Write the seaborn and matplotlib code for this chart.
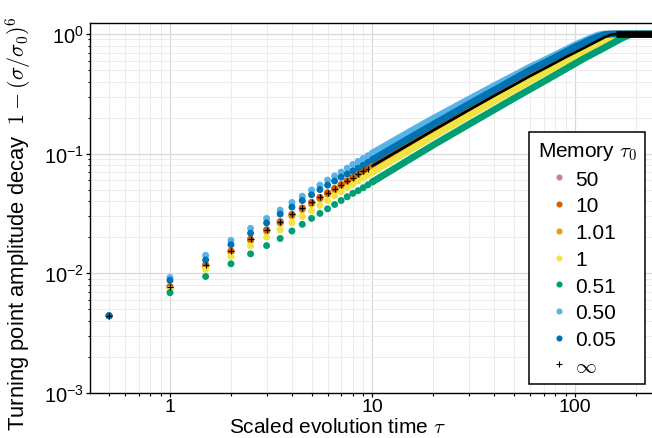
import pandas as pd
import seaborn as sns
import matplotlib.pyplot as plt
from matplotlib.lines import Line2D
from matplotlib.ticker import FixedLocator, LogLocator, NullFormatter

# memory tau_0 values (legend order) and their colours
memory = ["50", "10", "1.01", "1", "0.51", "0.50", "0.05"]
colors = ["#CC79A7", "#D55E00", "#E69F00", "#F0E442", "#009E73", "#56B4E9", "#0072B2"]
# order the series are drawn in (later ones sit on top)
draw_order = ["50", "1.01", "10", "1", "0.51", "0.50", "0.05"]

# early turning points, read dot by dot
tau_pts = [0.5, 1, 1.5, 2, 2.5, 3, 3.5, 4, 4.5, 5, 5.5, 6, 6.5, 7, 7.5, 8, 8.5, 9, 9.5, 10]
pts_50 = [0.0044, 0.0077, 0.0117, 0.0153, 0.0192, 0.0230, 0.0269, 0.0310, 0.0350, 0.0390,
          0.0430, 0.0470, 0.0510, 0.0550, 0.0590, 0.0630, 0.0670, 0.0710, 0.0750, 0.0790]
pts_10 = [0.0044, 0.0077, 0.0117, 0.0153, 0.0192, 0.0230, 0.0269, 0.0310, 0.0350, 0.0390,
          0.0430, 0.0470, 0.0510, 0.0550, 0.0590, 0.0630, 0.0670, 0.0710, 0.0750, 0.0790]
pts_101 = [0.0044, 0.0075, 0.0114, 0.0149, 0.0186, 0.0223, 0.0261, 0.0300, 0.0339, 0.0378,
           0.0416, 0.0455, 0.0494, 0.0533, 0.0572, 0.0611, 0.0650, 0.0689, 0.0727, 0.0766]
pts_1 = [0.0044, 0.00735, 0.01074, 0.0138, 0.01695, 0.0200, 0.0230, 0.0264, 0.0298, 0.0332,
         0.0368, 0.0405, 0.0442, 0.0480, 0.0520, 0.0555, 0.0590, 0.0625, 0.0660, 0.0700]
pts_051 = [0.0044, 0.00686, 0.00938, 0.01197, 0.0145, 0.0170, 0.0195, 0.0225, 0.0256, 0.0287,
           0.0316, 0.0345, 0.0375, 0.0405, 0.0435, 0.0465, 0.0490, 0.0518, 0.0548, 0.0580]
pts_050 = [0.0044, 0.0092, 0.0141, 0.0188, 0.0237, 0.0287, 0.0337, 0.0390, 0.0440, 0.0495,
           0.0545, 0.0600, 0.0650, 0.0700, 0.0755, 0.0810, 0.0860, 0.0910, 0.0960, 0.1010]
pts_005 = [0.0044, 0.0087, 0.0129, 0.0173, 0.0216, 0.0263, 0.0312, 0.0357, 0.0405, 0.0452,
           0.0500, 0.0545, 0.0590, 0.0635, 0.0675, 0.0715, 0.0758, 0.0800, 0.0845, 0.0890]
pts_inf = [0.0044, 0.0077, 0.0117, 0.0153, 0.0192, 0.0230, 0.0269, 0.0310, 0.0350, 0.0390,
           0.0430, 0.0470, 0.0510, 0.0550, 0.0590, 0.0630, 0.0670, 0.0710, 0.0750, 0.0790]

# later turning points sit so close they merge into bands
tau_band = [10, 15, 20, 30, 40, 50, 60, 70, 80, 90, 100, 110, 120, 130, 140, 150, 160, 170, 180, 190, 200, 240]
band_50 = [0.079, 0.118, 0.157, 0.232, 0.305, 0.375, 0.445, 0.51, 0.575, 0.64, 0.70, 0.76, 0.82, 0.88, 0.94, 0.985, 1, 1, 1, 1, 1, 1]
band_10 = [0.079, 0.118, 0.157, 0.232, 0.305, 0.375, 0.445, 0.51, 0.575, 0.64, 0.70, 0.76, 0.82, 0.88, 0.94, 0.985, 1, 1, 1, 1, 1, 1]
band_101 = [0.0766, 0.115, 0.153, 0.226, 0.298, 0.367, 0.437, 0.50, 0.565, 0.63, 0.69, 0.75, 0.81, 0.87, 0.93, 0.98, 1, 1, 1, 1, 1, 1]
band_1 = [0.070, 0.105, 0.140, 0.208, 0.275, 0.34, 0.405, 0.47, 0.53, 0.59, 0.65, 0.71, 0.77, 0.83, 0.89, 0.94, 0.985, 1, 1, 1, 1, 1]
band_051 = [0.058, 0.088, 0.118, 0.176, 0.233, 0.29, 0.345, 0.40, 0.455, 0.51, 0.565, 0.62, 0.67, 0.72, 0.77, 0.82, 0.87, 0.92, 0.96, 0.995, 1, 1]
band_050 = [0.101, 0.150, 0.197, 0.285, 0.37, 0.45, 0.53, 0.60, 0.67, 0.74, 0.81, 0.87, 0.93, 0.98, 1, 1, 1, 1, 1, 1, 1, 1]
band_005 = [0.089, 0.133, 0.176, 0.26, 0.34, 0.42, 0.50, 0.57, 0.64, 0.71, 0.78, 0.84, 0.90, 0.95, 0.99, 1, 1, 1, 1, 1, 1, 1]
band_inf = [0.079, 0.118, 0.157, 0.232, 0.305, 0.375, 0.445, 0.51, 0.575, 0.64, 0.70, 0.76, 0.82, 0.88, 0.94, 0.985, 1, 1, 1, 1, 1, 1]

pts_all = dict(zip(memory, [pts_50, pts_10, pts_101, pts_1, pts_051, pts_050, pts_005]))
band_all = dict(zip(memory, [band_50, band_10, band_101, band_1, band_051, band_050, band_005]))

rows = []
for m in draw_order:
    rows += [(m, t, v) for t, v in zip(tau_pts, pts_all[m])]
dots = pd.DataFrame(rows, columns=["memory", "tau", "decay"])

rows = []
for m in draw_order:
    rows += [(m, t, v) for t, v in zip(tau_band, band_all[m])]
bands = pd.DataFrame(rows, columns=["memory", "tau", "decay"])

inf = pd.DataFrame({"tau": tau_band, "decay": band_inf})

sns.set_theme(style="ticks")
plt.rcParams["font.family"] = ["Liberation Sans", "DejaVu Sans"]
plt.rcParams["mathtext.fontset"] = "cm"
for key in ["text.color", "axes.labelcolor", "xtick.color", "ytick.color"]:
    plt.rcParams[key] = "black"

pal = dict(zip(memory, colors))

fig = plt.figure(figsize=(6.52, 4.39), dpi=100)
ax = fig.add_axes([90 / 652, 1 - 393.7 / 439, 562 / 652, 369.7 / 439])
ax.set_xscale("log")
ax.set_yscale("log")

sns.scatterplot(data=dots, x="tau", y="decay", hue="memory", hue_order=draw_order,
                palette=pal, s=25, linewidth=0, legend=False, ax=ax)
sns.scatterplot(x=tau_pts, y=pts_inf, marker="+", color="black", s=24,
                linewidth=0.9, legend=False, ax=ax)
sns.lineplot(data=bands, x="tau", y="decay", hue="memory", hue_order=draw_order,
             palette=pal, lw=4.9, estimator=None, legend=False, ax=ax,
             solid_capstyle="round")
sns.lineplot(data=inf[inf.tau <= 160], x="tau", y="decay", color="black", lw=1.9,
             estimator=None, legend=False, ax=ax, solid_capstyle="round")
sns.lineplot(data=inf[inf.decay >= 1], x="tau", y="decay", color="black", lw=4.8,
             estimator=None, legend=False, ax=ax, solid_capstyle="butt")

ax.set_xlim(0.4027, 240)
ax.set_ylim(1e-3, 1.236)

ax.xaxis.set_major_locator(FixedLocator([1, 10, 100]))
ax.set_xticklabels(["1", "10", "100"])
ax.xaxis.set_minor_locator(LogLocator(base=10, subs=range(2, 10)))
ax.xaxis.set_minor_formatter(NullFormatter())
ax.yaxis.set_major_locator(FixedLocator([1e-3, 1e-2, 1e-1, 1]))
ax.set_yticklabels([r"$\mathregular{10^{-3}}$", r"$\mathregular{10^{-2}}$",
                    r"$\mathregular{10^{-1}}$", r"$\mathregular{10^{0}}$"])
ax.yaxis.set_minor_locator(LogLocator(base=10, subs=range(2, 10)))
ax.yaxis.set_minor_formatter(NullFormatter())

ax.set_axisbelow(True)
ax.grid(True, which="major", color="#d9d9d9", lw=0.9)
ax.grid(True, which="minor", color="#ececec", lw=0.7)

ax.tick_params(which="major", direction="out", length=2.6, width=0.9,
               labelsize=14, color="black", pad=1.0)
ax.tick_params(axis="y", which="major", labelsize=14.5, pad=1.5)
ax.tick_params(which="minor", direction="out", length=1.8, width=0.8, color="black")
for side in ["left", "bottom", "top"]:
    ax.spines[side].set_linewidth(1.0)
    ax.spines[side].set_color("black")
ax.spines["right"].set_visible(False)

ax.set_xlabel(r"Scaled evolution time $\tau$", fontsize=15)
ax.xaxis.set_label_coords(0.441, -0.066)
ax.set_ylabel(r"Turning point amplitude decay  $1-(\sigma/\sigma_0)^6$", fontsize=15.8)
ax.yaxis.set_label_coords(-0.101, 0.46)

handles = [Line2D([], [], ls="none", marker="o", ms=4.4, color=c, mec="none")
           for c in colors]
handles.append(Line2D([], [], ls="none", marker="+", ms=4.0, mew=0.8, color="black"))
labels = memory + [r"$\infty$"]
leg = ax.legend(handles, labels, title=r"Memory $\tau_0$", loc="lower right",
                bbox_to_anchor=(0.9875, 0.0235), frameon=True, fancybox=False,
                edgecolor="black", framealpha=1, fontsize=15, title_fontsize=15,
                labelspacing=0.37, handlelength=2.1, handletextpad=-0.3,
                borderpad=0.4, borderaxespad=0)
leg.get_frame().set_linewidth(1.1)
leg._legend_box.align = "left"

fig.savefig("out.png", dpi=100)
